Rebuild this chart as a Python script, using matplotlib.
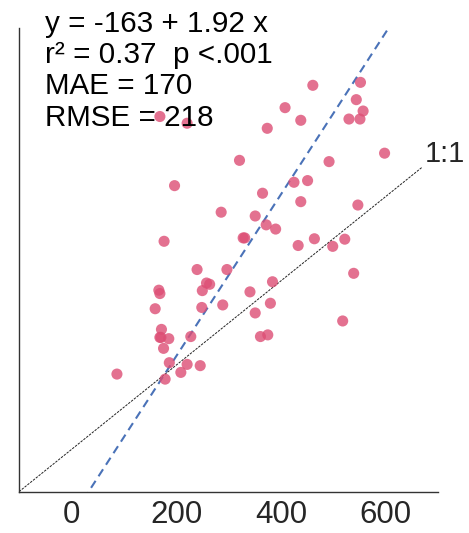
import matplotlib
matplotlib.use("Agg")
import matplotlib.pyplot as plt
import numpy as np

plt.rcParams['font.family'] = ['Liberation Sans', 'DejaVu Sans']

x_obs = [461, 552, 544, 557, 530, 551, 408, 438, 374, 169, 221, 598, 321, 492,
         197, 425, 451, 365, 438, 547, 286, 351, 372, 390, 177, 328, 331, 433,
         464, 499, 522, 240, 297, 539, 167, 169, 258, 264, 250, 341, 384, 289,
         249, 380, 160, 351, 518, 172, 169, 171, 186, 228, 361, 375, 176, 187,
         221, 246, 209, 179, 87]
y_pred = [864, 871, 830, 803, 784, 784, 811, 781, 762, 790, 774, 703, 686, 683,
          626, 634, 638, 608, 588, 580, 563, 554, 533, 523, 494, 502, 502, 484,
          500, 482, 499, 427, 427, 418, 378, 370, 395, 392, 377, 374, 398, 343,
          337, 347, 334, 324, 305, 285, 266, 266, 263, 268, 268, 272, 240, 206,
          202, 199, 183, 167, 179]

intercept = -163
slope = 1.92
stats_lines = ["y = -163 + 1.92 x", "r\u00b2 = 0.37  p <.001", "MAE = 170", "RMSE = 218"]
xticks = [0, 200, 400, 600]
one_to_one = [-100, 670]
xlim = (-100, 700)
ylim = (-100, 1000)

fig = plt.figure(figsize=(4.69, 5.33), dpi=100)
ax = fig.add_axes([0.0405, 0.0775, 0.8934, 0.87])

ax.scatter(x_obs, y_pred, s=64, color='#DD4E75', alpha=0.8, edgecolors='none', zorder=3)

xl = np.array(xlim)
ax.plot(xl, intercept + slope * xl, color='#4a72b8', lw=1.5, linestyle=(0, (4, 2.6)), zorder=2)
ax.plot(one_to_one, one_to_one, color='#222222', lw=0.7, linestyle=(0, (2.5, 1.2)), zorder=2)
ax.text(675, 682, "1:1", fontsize=21, color='#262626',
        ha='left', va='baseline', clip_on=False)

ax.set_xlim(*xlim)
ax.set_ylim(*ylim)
ax.set_xticks(xticks)
ax.set_yticks([])
ax.tick_params(axis='x', length=0, pad=5.7, labelsize=22.5, labelcolor='#262626')
for s in ['top', 'right']:
    ax.spines[s].set_visible(False)
for s in ['left', 'bottom']:
    ax.spines[s].set_color('#333333')
    ax.spines[s].set_linewidth(1.0)

y0 = 1 - 31.5 / 533
dy = 31.4 / 533
for i, line in enumerate(stats_lines):
    fig.text(45.0 / 469, y0 - i * dy, line, fontsize=21.3, color='black',
             ha='left', va='baseline')

fig.savefig("out.png", dpi=100)
